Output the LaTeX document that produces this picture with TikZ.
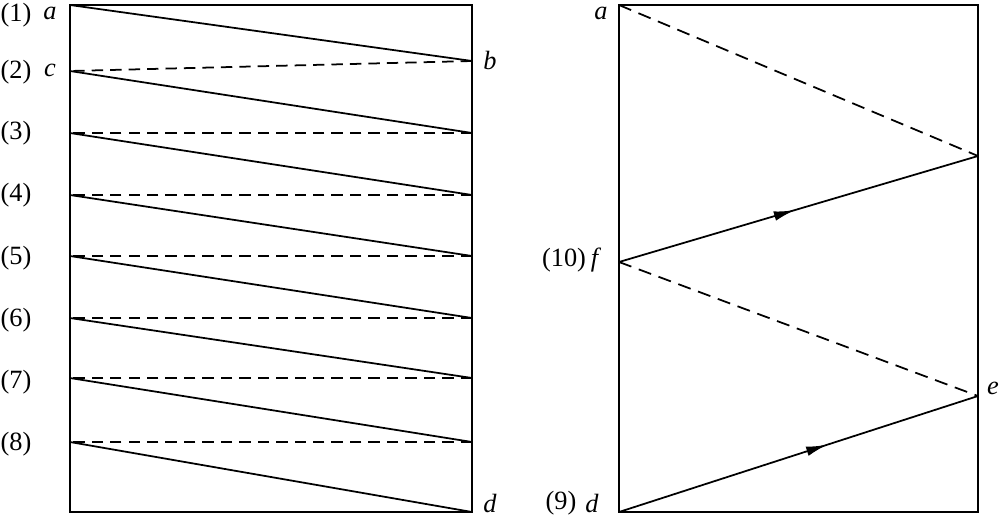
\documentclass[tikz,border=0pt]{standalone}
\usepackage{fontspec}
\setmainfont{Liberation Serif}
\usetikzlibrary{arrows.meta,decorations.markings}
\tikzset{%
	frame/.style    = {draw, line width=1pt},
	ray/.style      = {line width=1pt}, % forward path
	back/.style     = {line width=1pt, dash pattern=on 6.5pt off 4pt}, % return path
	longback/.style = {line width=1pt, dash pattern=on 7.5pt off 4.5pt},
	lbl/.style      = {inner sep=0pt, font=\fontsize{15}{17}\selectfont},
	midarrow/.style = {postaction={decorate}, decoration={markings, mark=at position #1 with {\arrow{Latex[length=12pt,width=5.5pt]}}}},
}
\begin{document}
\begin{tikzpicture}[x=0.02cm, y=-0.02cm]
	\useasboundingbox (0,0) rectangle (1000,518);
	% left box
	\draw[frame] (70,5) rectangle (472,512);
	\foreach \y [count=\i] in {5,71,133,195,256,318,378,442}
		\coordinate (L\i) at (70,\y);
	\foreach \y [count=\i] in {61,133,195,256,318,378,442,512}
		\coordinate (R\i) at (472,\y);
	\foreach \i in {1,...,8}
		\draw[ray] (L\i) -- (R\i);
	\foreach \i [evaluate=\i as \j using int(\i+1)] in {1,...,7}
		\draw[back] (R\i) -- (L\j);
	\foreach \i/\y in {1/15,2/72,3/133,4/195,5/258,6/320,7/382,8/444}
		\node[lbl] (n\i) at (16,\y) {(\i)};
	\node[lbl] (la) at (50,13) {\textit{a}};
	\node[lbl] (lc) at (50,70) {\textit{c}};
	\node[lbl] (lb) at (490,60) {\textit{b}};
	\node[lbl] (ld) at (490,503) {\textit{d}};
	% right box
	\draw[frame] (619,5) rectangle (978,512);
	\coordinate (a) at (619,5);
	\coordinate (g) at (978,156);
	\coordinate (f) at (619,262);
	\coordinate (e) at (978,396);
	\coordinate (d) at (619,512);
	\draw[longback] (a) -- (g);
	\draw[ray, midarrow=0.49] (f) -- (g);
	\draw[longback] (f) -- (e);
	\draw[ray, midarrow=0.58] (d) -- (e);
	\node[lbl] (ra) at (601,13) {\textit{a}};
	\node[lbl] (n10) at (564,260) {(10)};
	\node[lbl] (rf) at (596,260) {\textit{f}};
	\node[lbl] (n9) at (561,503) {(9)};
	\node[lbl] (rd) at (592,503) {\textit{d}};
	\node[lbl] (re) at (993,388) {\textit{e}};
\end{tikzpicture}
\end{document}
